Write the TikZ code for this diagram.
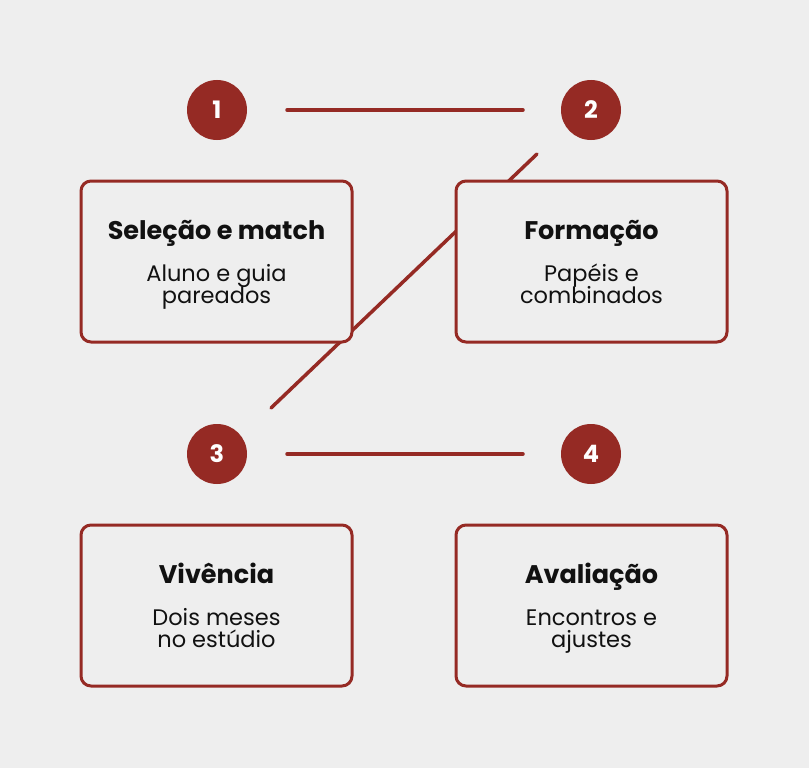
\documentclass[tikz,border=0pt]{standalone}
\usepackage{fontspec}
\setmainfont{Poppins}
\definecolor{bg}{HTML}{EEEEEE}
\definecolor{brick}{HTML}{952A24}
\definecolor{ink}{HTML}{111111}
\begin{document}
\begin{tikzpicture}[x=1pt,y=-1pt,
  numdot/.style={circle,fill=brick,minimum size=60pt,inner sep=0pt,text=white,font=\fontsize{24}{24}\selectfont\bfseries},
  link/.style={draw=brick,line width=3.5pt,line cap=round},
  card/.style={draw=brick,fill=bg,line width=3pt,rounded corners=10pt,minimum width=271pt,minimum height=161pt,inner sep=0pt},
  ttl/.style={anchor=base,inner sep=0pt,font=\fontsize{25.5}{25.5}\selectfont\bfseries,text=ink},
  sub/.style={anchor=base,inner sep=0pt,font=\fontsize{22.5}{22}\selectfont,text=ink}]
\fill[bg] (0,0) rectangle (809,768);
\useasboundingbox (0,0) rectangle (809,768);
% numbers
\node[numdot] (n1) at (217,110) {1};
\node[numdot] (n2) at (591,110) {2};
\node[numdot] (n3) at (217,454) {3};
\node[numdot] (n4) at (591,454) {4};
% connectors
\coordinate (a1) at (287,110); \coordinate (a2) at (523,110);
\coordinate (b1) at (537,154); \coordinate (b2) at (271,408);
\coordinate (c1) at (287,454); \coordinate (c2) at (523,454);
\draw[link] (a1) -- (a2);
\draw[link] (b1) -- (b2);
\draw[link] (c1) -- (c2);
% cards
\node[card] (k1) at (216.5,261.5) {};
\node[card] (k2) at (591.5,261.5) {};
\node[card] (k3) at (216.5,605.5) {};
\node[card] (k4) at (591.5,605.5) {};
\node[ttl] (t1) at (216.5,239.5) {Seleção e match};
\node[sub] (s1a) at (216.5,281) {Aluno e guia};
\node[sub] (s1b) at (216.5,303) {pareados};
\node[ttl] (t2) at (591.5,239.5) {Formação};
\node[sub] (s2a) at (591.5,281) {Papéis e};
\node[sub] (s2b) at (591.5,303) {combinados};
\node[ttl] (t3) at (216.5,583.5) {Vivência};
\node[sub] (s3a) at (216.5,625) {Dois meses};
\node[sub] (s3b) at (216.5,647) {no estúdio};
\node[ttl] (t4) at (591.5,583.5) {Avaliação};
\node[sub] (s4a) at (591.5,625) {Encontros e};
\node[sub] (s4b) at (591.5,647) {ajustes};
\end{tikzpicture}
\end{document}
